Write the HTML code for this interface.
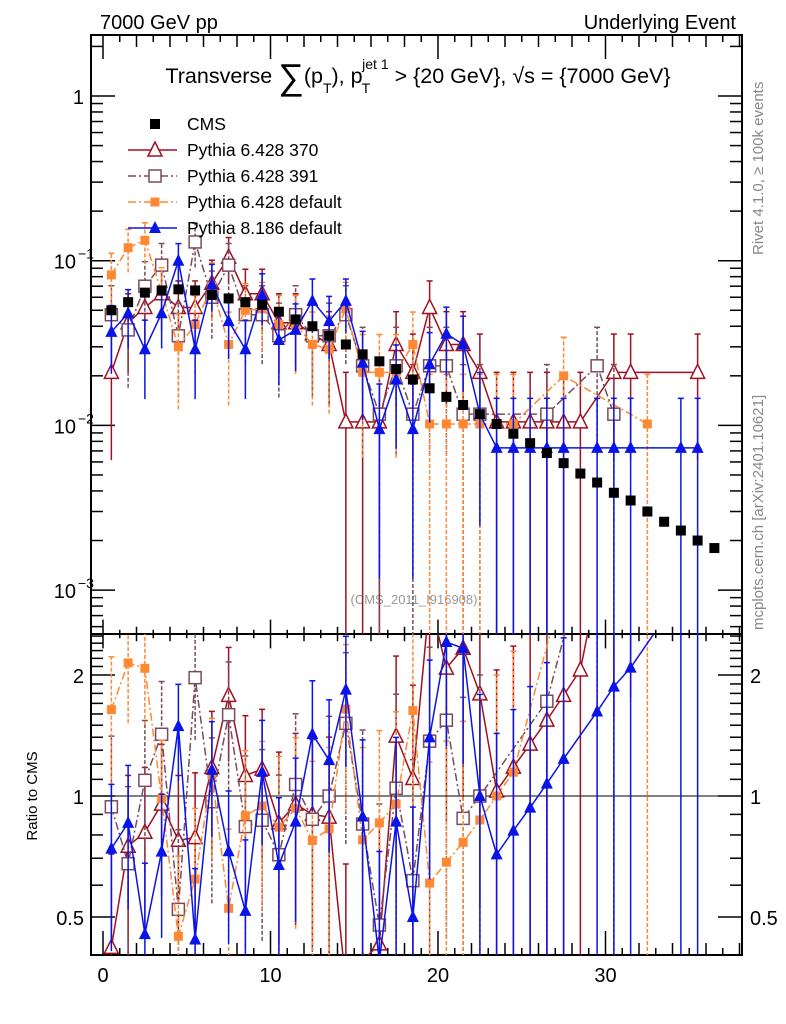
<!DOCTYPE html>
<html><head><meta charset="utf-8">
<style>
html,body{margin:0;padding:0;background:#fff;overflow:hidden;width:786px;height:1024px;}
svg{display:block;}
svg text{font-family:"Liberation Sans",sans-serif;}
</style></head>
<body>
<svg id="c" width="786" height="1024" viewBox="0 0 786 1024" xmlns="http://www.w3.org/2000/svg">
<defs>
<clipPath id="clipMain"><rect x="91" y="35" width="651" height="599"/></clipPath>
<clipPath id="clipRatio"><rect x="91" y="634" width="651" height="321"/></clipPath>
</defs>
<text x="100" y="29" font-size="20">7000 GeV pp</text>
<text x="736" y="29" font-size="20" text-anchor="end">Underlying Event</text>
<text x="418" y="83" font-size="21.5" text-anchor="middle">Transverse <tspan font-size="36" dy="6">∑</tspan><tspan dy="-6">(p</tspan><tspan font-size="14" dy="10">T</tspan><tspan dy="-10">), p</tspan><tspan font-size="14" dy="10" dx="-1">T</tspan><tspan font-size="14" dy="-24" dx="-8">jet 1</tspan><tspan dy="14"> &gt; {20 GeV}, √s = {7000 GeV}</tspan></text>
<text x="414" y="604" font-size="13" fill="#999" text-anchor="middle">(CMS_2011_I916908)</text>
<text transform="translate(763,255) rotate(-90)" font-size="15" fill="#888">Rivet 4.1.0, ≥ 100k events</text>
<text transform="translate(763,630) rotate(-90)" font-size="15" fill="#888">mcplots.cern.ch [arXiv:2401.10621]</text>
<text transform="translate(37,796) rotate(-90)" font-size="15" text-anchor="middle">Ratio to CMS</text>
<g id="axes"></g>
<g id="marksMain" clip-path="url(#clipMain)"></g>
<g id="marksRatio" clip-path="url(#clipRatio)"></g>
<g id="legend"></g>
</svg>
<script>
const xCenters=[0.5,1.5,2.5,3.5,4.5,5.5,6.5,7.5,8.5,9.5,10.5,11.5,12.5,13.5,14.5,15.5,16.5,17.5,18.5,19.5,20.5,21.5,22.5,23.5,24.5,25.5,26.5,27.5,28.5,29.5,30.5,31.5,32.5,33.5,34.5,35.5,36.5];
const cmsValues=[0.050,0.056,0.064,0.066,0.067,0.066,0.062,0.059,0.056,0.054,0.049,0.044,0.040,0.035,0.031,0.027,0.0245,0.022,0.019,0.0168,0.0149,0.0133,0.0117,0.0102,0.0089,0.0078,0.0068,0.0059,0.0051,0.0045,0.0039,0.0035,0.0030,0.0026,0.0023,0.0020,0.0018];
const p370=[0.021,0.042,0.052,0.063,0.052,0.052,0.073,0.105,0.063,0.063,0.042,0.042,0.036,0.031,0.0105,0.0105,0.0105,0.031,0.021,0.052,0.031,0.031,0.021,0.0105,0.0105,0.0105,0.0105,0.0105,0.0105,null,0.021,0.021,null,null,null,0.021,null];
const p391=[0.047,0.038,0.070,0.094,0.035,0.13,0.060,0.094,0.047,0.047,0.035,0.047,0.035,0.035,0.047,0.023,0.0117,0.023,0.0117,0.023,0.023,0.0117,0.0117,null,null,null,0.0117,null,null,0.023,0.0117,null,null,null,null,null,null];
const p6def=[0.082,0.12,0.133,0.065,0.03,0.041,0.07,0.031,0.05,0.051,0.041,0.041,0.031,0.029,0.051,0.021,0.021,0.021,0.031,0.0102,0.0102,0.0102,0.0102,0.0102,0.0102,null,null,0.020,null,null,null,null,0.0102,null,null,null,null];
const p8def=[0.037,0.048,0.029,0.048,0.10,0.029,0.072,0.043,0.029,0.062,0.033,0.038,0.057,0.043,0.057,0.024,0.0095,0.019,0.0095,0.0235,0.036,0.031,0.0117,0.0073,0.0073,0.0073,0.0073,0.0073,null,0.0073,0.0073,0.0073,null,null,0.0073,0.0073,null];
const unit370=0.0105, unit391=0.0117, unit6=0.0102, unit8=0.0073;
const mainTickLabels=["1","10","10","10"];
const mainTickExps=[null,"−1","−2","−3"];
const ratioTicks=[0.5,1,2];
const xTickLabels=[0,10,20,30];

const NS="http://www.w3.org/2000/svg";
const L=91,R=742,TOP=35,MID=634,BOT=955;
const X=v=>103+v*16.75;
const Ym=v=>96-Math.log10(v)*164.7;
const Yr=v=>796-Math.log2(v)*121;
const clampY=(y,a,b)=>Math.max(a,Math.min(b,y));
function mk(parent,tag,attrs){const e=document.createElementNS(NS,tag);for(const k in attrs)e.setAttribute(k,attrs[k]);parent.appendChild(e);return e;}
const ax=document.getElementById('axes');
let f1=mk(ax,'rect',{x:L,y:TOP,width:R-L,height:MID-TOP,fill:'none',stroke:'#000','stroke-width':2});


let f2=mk(ax,'rect',{x:L,y:MID,width:R-L,height:BOT-MID,fill:'none',stroke:'#000','stroke-width':2});


let rl=mk(ax,'line',{x1:L,x2:R,y1:Yr(1),y2:Yr(1),stroke:'#000','stroke-width':1});


for(let i=0;i<=38;i++){const x=X(i);if(x<L||x>R)continue;const len=i%10==0?24:(i%2==0?12:7);
 for(const [y0,d] of [[TOP,1],[MID,-1],[MID,1],[BOT,-1]]){mk(ax,'line',{x1:x,x2:x,y1:y0,y2:y0+d*len*(y0==MID?0.6:1),stroke:'#000','stroke-width':1.5});}}
xTickLabels.forEach(v=>{let t=mk(ax,'text',{x:X(v),y:982,'font-size':20,'text-anchor':'middle'});t.textContent=v;
 
 });
for(let d=0;d>=-4;d--){for(let m=1;m<10;m++){const v=m*Math.pow(10,d);const y=Ym(v);if(y<TOP||y>MID)continue;const len=m==1?24:12;
 mk(ax,'line',{x1:L,x2:L+len,y1:y,y2:y,stroke:'#000','stroke-width':1.5});mk(ax,'line',{x1:R,x2:R-len,y1:y,y2:y,stroke:'#000','stroke-width':1.5});}}
mainTickLabels.forEach((lab,i)=>{const y=Ym(Math.pow(10,-i));let t=mk(ax,'text',{x:i==0?84:76,y:y+8,'font-size':20,'text-anchor':'end'});t.textContent=lab;
 
 
 if(mainTickExps[i]){let e=mk(ax,'text',{x:78,y:y-2,'font-size':14});e.textContent=mainTickExps[i];
 
 }});
for(let v=0.3;v<=2.6;v+=0.1){const vv=Math.round(v*10)/10;const y=Yr(vv);if(y<MID||y>BOT)continue;const maj=ratioTicks.includes(vv);const len=maj?24:12;
 mk(ax,'line',{x1:L,x2:L+len,y1:y,y2:y,stroke:'#000','stroke-width':1.5});mk(ax,'line',{x1:R,x2:R-len,y1:y,y2:y,stroke:'#000','stroke-width':1.5});}
ratioTicks.forEach(v=>{for(const [x,a] of [[84,'end'],[750,'start']]){let t=mk(ax,'text',{x:x,y:Yr(v)+8,'font-size':20,'text-anchor':a});t.textContent=v;
 
 }});

function marker(g,type,x,y,col){
 if(type=='sqf')return mk(g,'rect',{x:x-5,y:y-5,width:10,height:10,fill:col});
 if(type=='sqo')return mk(g,'rect',{x:x-6,y:y-6,width:12,height:12,fill:'#fff',stroke:col,'stroke-width':1.5});
 if(type=='sqs')return mk(g,'rect',{x:x-4.5,y:y-4.5,width:9,height:9,fill:col});
 if(type=='tro')return mk(g,'polygon',{points:`${x},${y-8} ${x-7},${y+6} ${x+7},${y+6}`,fill:'#fff',stroke:col,'stroke-width':1.5});
 if(type=='trf')return mk(g,'polygon',{points:`${x},${y-7} ${x-6},${y+5} ${x+6},${y+5}`,fill:col});
}
const series=[
 {name:'pythia-6-370',vals:p370,unit:unit370,col:'#a01020',dash:'',m:'tro'},
 {name:'pythia-6-391',vals:p391,unit:unit391,col:'#7a4a5e',dash:'8,3,2,3',m:'sqo'},
 {name:'pythia-6-default',vals:p6def,unit:unit6,col:'#ff8833',dash:'8,3,2,3',m:'sqs'},
 {name:'pythia-8-default',vals:p8def,unit:unit8,col:'#0a14e8',dash:'',m:'trf'}];
const gm=document.getElementById('marksMain'),gr=document.getElementById('marksRatio');
function drawSeries(s,g,Yf,ratio){
 const lo=ratio?MID-20:TOP-20, hi=ratio?BOT+20:MID+20;
 const grp=mk(g,'g',{});
 
 
 const pts=[];
 s.vals.forEach((v,i)=>{if(v==null)return;const c=ratio?cmsValues[i]:1;const err=Math.sqrt(v*s.unit);
  const x=X(xCenters[i]),y=Yf(v/c),y1=clampY(Yf(Math.max(v-err,1e-6)/c),lo,hi),y2=clampY(Yf((v+err)/c),lo,hi);
  mk(grp,'line',{x1:x,x2:x,y1:y1,y2:y2,stroke:s.col,'stroke-width':1.5,'stroke-dasharray':s.dash?'4,2':''});
  mk(grp,'line',{x1:x-3,x2:x+3,y1:y2,y2:y2,stroke:s.col,'stroke-width':1.5});
  pts.push([x,y]);});
 mk(grp,'polyline',{points:pts.map(p=>p.join(',')).join(' '),fill:'none',stroke:s.col,'stroke-width':1.5,'stroke-dasharray':s.dash});
 pts.forEach(p=>{if(p[1]<lo||p[1]>hi)return;let m=marker(grp,s.m,p[0],p[1],s.col);});
}
series.forEach(s=>{drawSeries(s,gm,Ym,false);drawSeries(s,gr,Yr,true);});
const cg=mk(gm,'g',{});


cmsValues.forEach((v,i)=>{let m=marker(cg,'sqf',X(xCenters[i]),Ym(v),'#000');
 
 });
const lg=document.getElementById('legend');
const legNames=['CMS','Pythia 6.428 370','Pythia 6.428 391','Pythia 6.428 default','Pythia 8.186 default'];
legNames.forEach((n,i)=>{const y=124+i*26;const e=mk(lg,'g',{});
 
 
 if(i==0){marker(e,'sqf',155,y,'#000');}else{const s=series[i-1];mk(e,'line',{x1:128,x2:177,y1:y,y2:y,stroke:s.col,'stroke-width':1.5,'stroke-dasharray':s.dash});marker(e,s.m,155,y,s.col);}
 let t=mk(e,'text',{x:187,y:y+6,'font-size':17.5});t.textContent=n;});
</script>
</body></html>
